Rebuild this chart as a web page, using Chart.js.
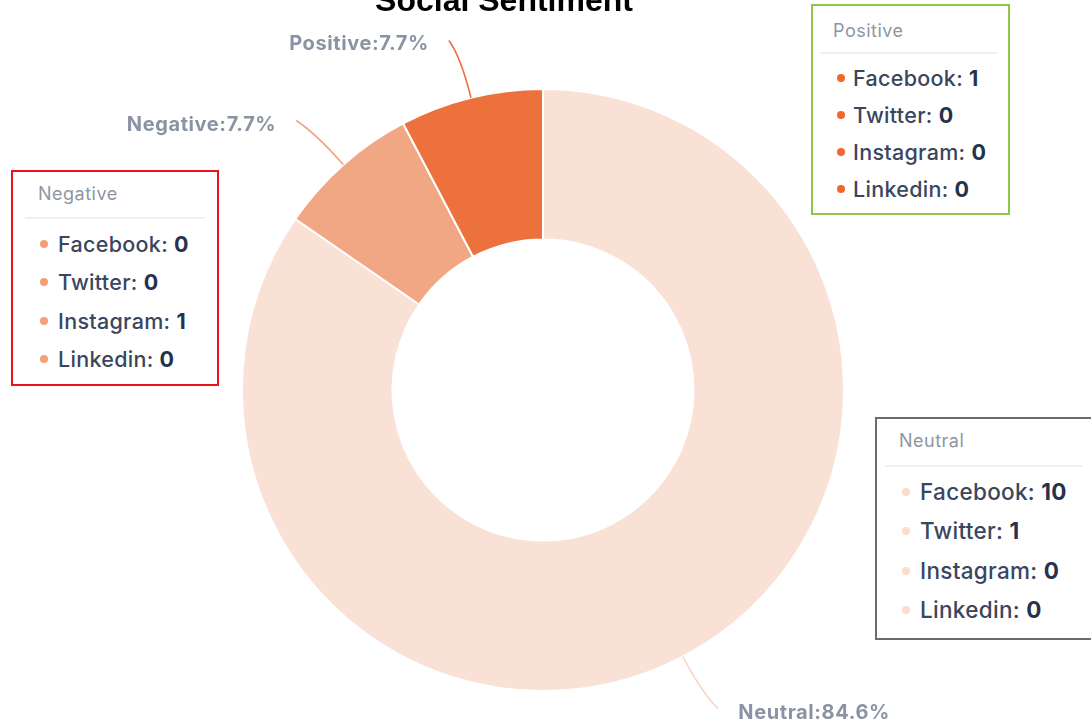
<!DOCTYPE html>
<html>
<head>
<meta charset="utf-8">
<script src="https://cdn.jsdelivr.net/npm/chart.js@4.4.1/dist/chart.umd.min.js"></script>
<style>
  html, body { margin: 0; padding: 0; background: #ffffff; }
  #wrap { position: relative; width: 1091px; height: 727px; overflow: hidden; }
  #c { position: absolute; left: 0; top: 0; }
  .box { position: absolute; box-sizing: border-box; background: #fff; font-family: Inter, "Open Sans", sans-serif; }
  .box .ttl { position: absolute; font-size: 18px; letter-spacing: 0.5px; color: #8e96a4; line-height: 20px; }
  .box .sep { position: absolute; height: 2px; background: #eef0f2; }
  .box .row { position: absolute; font-size: 21.5px; letter-spacing: 0.3px; color: #3a465e; line-height: 24px; white-space: nowrap; font-weight: 500; }
  .box .row b { color: #26324b; font-weight: 700; }
  .box .dot { position: absolute; width: 8px; height: 8px; border-radius: 50%; }
</style>
</head>
<body>
<div id="wrap">
  <canvas id="c" width="1091" height="727"></canvas>
</div>
<script>
// ---- data ----
const chartTitle = 'Social Sentiment';
const sentiments = ['Neutral', 'Negative', 'Positive'];
const platforms = ['Facebook', 'Twitter', 'Instagram', 'Linkedin'];
const neutralCounts = [10, 1, 0, 0];
const negativeCounts = [0, 0, 1, 0];
const positiveCounts = [1, 0, 0, 0];
const sentimentTotals = [11, 1, 1];
const sliceColors = ['#fae1d6', '#f2a784', '#ec713c'];
const lineColors = ['#f8d6c6', '#f2a27e', '#ec713c'];
const dotColors = { Neutral: '#fbdccd', Negative: '#f59e78', Positive: '#f2672c' };

// ---- boxes (HTML) ----
function makeBox(name, counts, cfg) {
  const wrap = document.getElementById('wrap');
  const b = document.createElement('div');
  b.className = 'box';
  Object.assign(b.style, { left: cfg.left + 'px', top: cfg.top + 'px', width: cfg.w + 'px', height: cfg.h + 'px', border: '2px solid ' + cfg.border });
  const t = document.createElement('div');
  t.className = 'ttl'; t.textContent = name;
  Object.assign(t.style, { left: cfg.titleX + 'px', top: (cfg.titleY - 10) + 'px' });
  b.appendChild(t);
  const s = document.createElement('div');
  s.className = 'sep';
  Object.assign(s.style, { left: cfg.sepL + 'px', width: cfg.sepW + 'px', top: cfg.sepY + 'px' });
  b.appendChild(s);
  platforms.forEach((p, i) => {
    const y = cfg.rowY0 + i * cfg.rowDy;
    const d = document.createElement('div');
    d.className = 'dot';
    Object.assign(d.style, { left: (cfg.dotX - 4) + 'px', top: (y - 4) + 'px', background: dotColors[name] });
    b.appendChild(d);
    const r = document.createElement('div');
    r.className = 'row';
    r.style.left = cfg.textX + 'px';
    r.style.top = (y - 12) + 'px';
    if (cfg.fs) r.style.fontSize = cfg.fs + 'px';
    r.innerHTML = p + ': <b>' + counts[i] + '</b>';
    b.appendChild(r);
  });
  wrap.appendChild(b);
}
makeBox('Negative', negativeCounts, { left: 11, top: 170, w: 208, h: 216, border: '#e8141b', titleX: 25, titleY: 22, sepL: 12, sepW: 180, sepY: 45, rowY0: 72, rowDy: 38.3, dotX: 31, textX: 45 });
makeBox('Positive', positiveCounts, { left: 811, top: 4, w: 199, h: 211, border: '#8cc64a', titleX: 20, titleY: 25, sepL: 7, sepW: 177, sepY: 46, rowY0: 72, rowDy: 37, dotX: 28, textX: 40 });
makeBox('Neutral', neutralCounts, { left: 875, top: 417, w: 240, h: 223, border: '#6b6b6b', titleX: 22, titleY: 22, sepL: 8, sepW: 197, sepY: 46, rowY0: 73, rowDy: 39.3, dotX: 29, textX: 43, fs: 22.5 });

// ---- outer labels plugin ----
const outerLabels = {
  id: 'outerLabels',
  afterDatasetsDraw(chart) {
    const ctx = chart.ctx;
    const meta = chart.getDatasetMeta(0);
    const total = sentimentTotals.reduce((a, b) => a + b, 0);
    meta.data.forEach((arc, i) => {
      const mid = (arc.startAngle + arc.endAngle) / 2;
      const cx = arc.x, cy = arc.y, R = arc.outerRadius;
      const cos = Math.cos(mid), sin = Math.sin(mid);
      const p0 = [cx + R * cos, cy + R * sin];
      const c1 = [cx + (R + 42) * cos, cy + (R + 42) * sin];
      const side = cos >= 0 ? 1 : -1;
      const e = [cx + (R + 59) * cos + side * 8, cy + (R + 59) * sin];
      ctx.save();
      ctx.strokeStyle = lineColors[i];
      ctx.lineWidth = 1.6;
      ctx.beginPath();
      ctx.moveTo(p0[0], p0[1]);
      ctx.quadraticCurveTo(c1[0], c1[1], e[0], e[1]);
      ctx.stroke();
      const pct = (sentimentTotals[i] / total * 100).toFixed(1) + '%';
      ctx.font = 'bold 20px Inter, "Open Sans", sans-serif';
      ctx.letterSpacing = '0.6px';
      ctx.fillStyle = '#8a93a3';
      ctx.textBaseline = 'middle';
      ctx.textAlign = side > 0 ? 'left' : 'right';
      ctx.fillText(sentiments[i] + ':' + pct, e[0] + side * 20, e[1] + 4);
      ctx.restore();
    });
    // title
    ctx.save();
    ctx.font = 'bold 32px "Liberation Sans", Arial, sans-serif';
    ctx.fillStyle = '#000';
    ctx.textAlign = 'center';
    ctx.textBaseline = 'alphabetic';
    ctx.fillText(chartTitle, 504, 11);
    ctx.restore();
  }
};

new Chart(document.getElementById('c'), {
  type: 'doughnut',
  data: {
    labels: sentiments,
    datasets: [{
      data: sentimentTotals,
      backgroundColor: sliceColors,
      borderColor: '#ffffff',
      borderWidth: 2,
      hoverOffset: 0
    }]
  },
  options: {
    responsive: false,
    animation: false,
    cutout: '50%',
    layout: { padding: { top: 88, bottom: 35, left: 0, right: 5 } },
    plugins: { legend: { display: false }, tooltip: { enabled: false }, title: { display: false } }
  },
  plugins: [outerLabels]
});
</script>
</body>
</html>
